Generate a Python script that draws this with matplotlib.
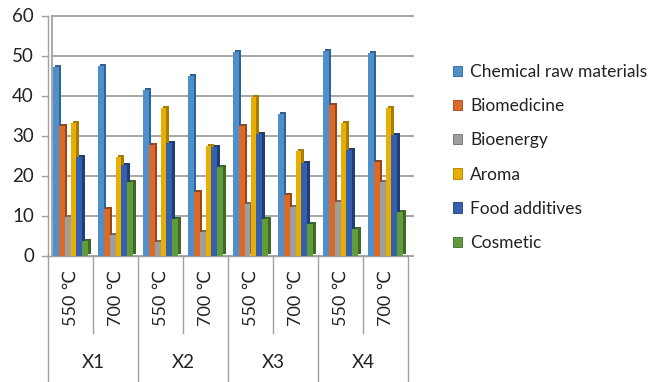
import numpy as np
import matplotlib
matplotlib.use("Agg")
import matplotlib.pyplot as plt
import matplotlib.transforms as mtransforms
from matplotlib.patches import Patch

plt.rcParams['font.family'] = ['Lato', 'DejaVu Sans']

groups = ["X1", "X2", "X3", "X4"]
temps = ["550 \u2103", "700 \u2103"]
series = ["Chemical raw materials", "Biomedicine", "Bioenergy",
          "Aroma", "Food additives", "Cosmetic"]

chemical = [47.2, 47.6, 41.5, 44.9, 50.9, 35.4, 51.2, 50.8]
biomedicine = [32.6, 11.8, 27.7, 16.1, 32.5, 15.3, 37.7, 23.4]
bioenergy = [9.7, 5.2, 3.4, 5.9, 12.9, 12.2, 13.5, 18.6]
aroma = [33.3, 24.7, 37.0, 27.5, 39.8, 26.2, 33.2, 36.9]
food = [24.8, 22.7, 28.2, 27.2, 30.4, 23.3, 26.5, 30.2]
cosmetic = [3.8, 18.6, 9.3, 22.2, 9.3, 8.1, 6.8, 11.0]

values = [chemical, biomedicine, bioenergy, aroma, food, cosmetic]
colors = ["#4F8FCC", "#DA6A2A", "#9E9E9E", "#E8AE00", "#3560AE", "#619B3C"]
sides = ["#2E6396", "#9E4415", "#6E6E6E", "#A87D00", "#1F3D78", "#3F6A26"]
text_color = "#222222"

W, H = 648, 382
fig = plt.figure(figsize=(W / 100, H / 100), dpi=100)
x0, x1 = 48, 408
y_top, y_bot = 16, 256
ax = fig.add_axes([x0 / W, (H - y_bot) / H, (x1 - x0) / W, (y_bot - y_top) / H])
ax.set_xlim(0, 8)
ax.set_ylim(0, 60)
ax.set_facecolor("none")
for s in ax.spines.values():
    s.set_visible(False)
ax.set_xticks([])
ax.set_yticks([])

# back-wall gridlines, shifted right for the depth effect
back = mtransforms.ScaledTranslation(4 / 100, 0, fig.dpi_scale_trans)
grid_tr = ax.transData + back
for v in range(0, 70, 10):
    ax.plot([0, 8 + 1 / 45], [v, v], color="#A0A0A0",
            lw=1.3, transform=grid_tr, clip_on=False, zorder=0)
    ax.plot([-6 / 45, 0], [v, v], color="#A0A0A0", lw=1.0, clip_on=False, zorder=0)
    ax.text(-14 / 45, v, str(v), ha="right", va="center", fontsize=13.5, color=text_color)

# left back-wall edge and front axis
ax.plot([0, 0], [0, 60], color="#A0A0A0", lw=1.3, transform=grid_tr, clip_on=False, zorder=0)
ax.plot([0, 0], [0, 60], color="#A0A0A0", lw=1.0, clip_on=False, zorder=0)
ax.plot([0, 8], [0, 0], color="#A0A0A0", lw=1.0, clip_on=False, zorder=1)

# bars with a darker offset copy for the side/top faces
bw = 0.13
xs = np.arange(8) + 0.5
depth = mtransforms.ScaledTranslation(2.5 / 100, 2.0 / 100, fig.dpi_scale_trans)
for i, (vals, c, sc) in enumerate(zip(values, colors, sides)):
    pos = xs + (i - 2.5) * bw
    ax.bar(pos, vals, width=bw, color=sc, transform=ax.transData + depth,
           zorder=2 + i * 2, clip_on=False)
    ax.bar(pos, vals, width=bw, color=c, zorder=3 + i * 2, clip_on=False)

# category table below the axis
btr = mtransforms.blended_transform_factory(ax.transData, fig.transFigure)
for k in range(9):
    ybottom = 0 if k % 2 == 0 else (H - 333) / H
    ax.plot([k, k], [(H - y_bot) / H, ybottom], color="#A0A0A0", lw=1.0,
            transform=btr, clip_on=False)
for k in range(8):
    ax.text(k + 0.5, (H - 298) / H, temps[k % 2], rotation=90, ha="center",
            va="center", fontsize=13, color=text_color, transform=btr)
for g, name in enumerate(groups):
    ax.text(2 * g + 1, (H - 363) / H, name, ha="center", va="center",
            fontsize=13.5, color=text_color, transform=btr)

handles = [Patch(facecolor=c, edgecolor=sc, lw=0.6) for c, sc in zip(colors, sides)]
leg = fig.legend(handles, series, loc="upper left", bbox_to_anchor=(446 / W, (H - 57) / H),
                 frameon=False, fontsize=12.5, handlelength=0.55, handleheight=0.55,
                 handletextpad=0.45, labelspacing=1.05, borderaxespad=0)
for t in leg.get_texts():
    t.set_color(text_color)

fig.savefig("out.png", dpi=100)
